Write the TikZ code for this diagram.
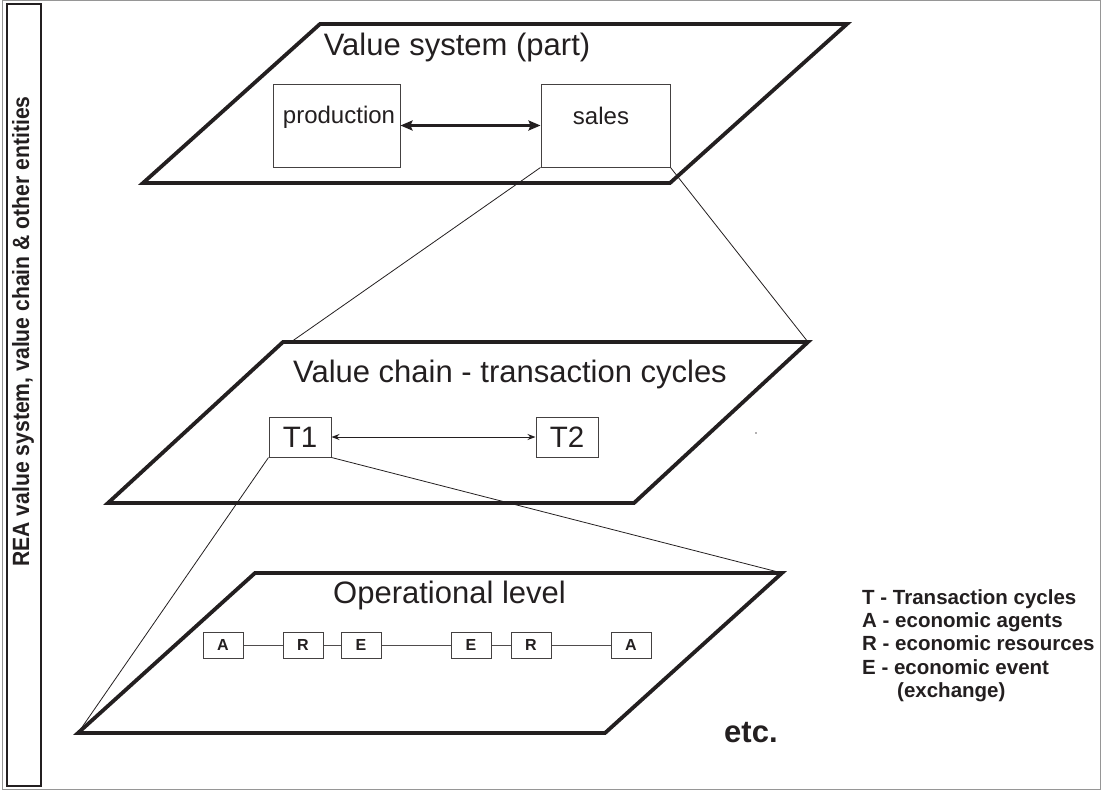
\documentclass[tikz,border=0pt]{standalone}
\usepackage{fontspec}
\usepackage{graphicx}
\setmainfont{Liberation Sans}
\usetikzlibrary{arrows.meta}
\definecolor{ink}{RGB}{35,31,32}
\definecolor{frame}{RGB}{150,150,150}
\begin{document}
\begin{tikzpicture}[x=1pt,y=-1pt,
  plane/.style={draw=ink, line width=3.8pt, line join=miter},
  vbox/.style={draw=ink!85, line width=1pt, fill=white, inner sep=0pt},
  titletext/.style={anchor=base, inner sep=0pt, text=ink, font=\fontsize{31}{37}\selectfont},
  boxtext/.style={anchor=base, inner sep=0pt, text=ink, font=\fontsize{24}{29}\selectfont},
  tbox/.style={vbox, minimum width=62pt, minimum height=40pt, text=ink, font=\fontsize{29.5}{34}\selectfont},
  rbox/.style={vbox, minimum width=40pt, minimum height=26pt, text=ink, font=\bfseries\fontsize{16}{19}\selectfont},
  legend/.style={anchor=base west, inner sep=0pt, text=ink, font=\bfseries\fontsize{20.5}{24}\selectfont},
  thin/.style={draw=ink, line width=0.8pt},
  chain/.style={draw=ink!80, line width=0.9pt}
]
\useasboundingbox (0,0) rectangle (1101,790);
% outer frame
\draw[frame, line width=1pt] (2.6,0.6) rectangle (1100.4,789.4);
% left band
\node[draw=ink, line width=2pt, minimum width=34pt, minimum height=782.5pt, inner sep=0pt] (band) at (24,394.75) {};
\node[rotate=90, text=ink, inner sep=0pt, font=\bfseries\fontsize{23.5}{28}\selectfont] (bandtext) at (23,331.5) {\scalebox{0.9}[1]{REA value system, value chain \& other entities}};

% planes
\coordinate (t1) at (320,24);  \coordinate (t2) at (847,24);
\coordinate (t3) at (670,183); \coordinate (t4) at (143,183);
\coordinate (m1) at (283,342); \coordinate (m2) at (808,342);
\coordinate (m3) at (634,503); \coordinate (m4) at (108,503);
\coordinate (b1) at (255,573); \coordinate (b2) at (782,573);
\coordinate (b3) at (605,733); \coordinate (b4) at (78,733);
\coordinate (mtop) at (291,342);
\draw[plane] (t1)--(t2)--(t3)--(t4)--cycle;
\draw[plane] (m1)--(m2)--(m3)--(m4)--cycle;
\draw[plane] (b1)--(b2)--(b3)--(b4)--cycle;

% titles
\node[titletext] (vstitle) at (457,55) {Value system (part)};
\node[titletext] (vctitle) at (510,382) {Value chain - transaction cycles};
\node[titletext] (optitle) at (449.5,603) {Operational level};

% top level boxes
\node[vbox, minimum width=127pt, minimum height=83pt] (prod) at (336.5,125.5) {};
\node[vbox, minimum width=129pt, minimum height=83pt] (sales) at (605.5,125.5) {};
\node[boxtext] (prodtext) at (339,123) {production};
\node[boxtext] (salestext) at (601,124) {sales};
\draw[draw=ink, line width=2.4pt, {Stealth[length=12pt,width=10pt,inset=2pt]}-{Stealth[length=12pt,width=10pt,inset=2pt]}] (prod.east) -- (sales.west);

% middle level boxes
\node[tbox] (T1) at (300,437) {T1};
\node[tbox] (T2) at (567,437) {T2};
\draw[draw=ink, line width=1pt, {Stealth[length=8pt,width=6pt]}-{Stealth[length=8pt,width=6pt]}] (T1.east) -- (T2.west);
\fill[ink!70] (756,433) circle (0.8pt);

% zoom connectors
\draw[thin] (sales.south west) -- (mtop);
\draw[thin] (sales.south east) -- (m2);
\draw[thin] (T1.south west) -- (b4);
\draw[thin] (T1.south east) -- (b2);

% operational chain
\node[rbox] (A1) at (223,645) {A};
\node[rbox] (R1) at (303,645) {R};
\node[rbox] (E1) at (361,645) {E};
\node[rbox] (E2) at (471,645) {E};
\node[rbox] (R2) at (531,645) {R};
\node[rbox] (A2) at (631,645) {A};
\draw[chain] (A1) -- (R1);
\draw[chain] (R1) -- (E1);
\draw[chain] (E1) -- (E2);
\draw[chain] (E2) -- (R2);
\draw[chain] (R2) -- (A2);

% legend
\node[legend] (legT) at (862,604) {T - Transaction cycles};
\node[legend] (legA) at (862,627) {A - economic agents};
\node[legend] (legR) at (862,650.5) {R - economic resources};
\node[legend] (legE) at (862,674) {E - economic event};
\node[legend] (legX) at (897,697) {(exchange)};

\node[anchor=base west, inner sep=0pt, text=ink, font=\bfseries\fontsize{31}{37}\selectfont] (etc) at (724,742) {etc.};
\end{tikzpicture}
\end{document}
